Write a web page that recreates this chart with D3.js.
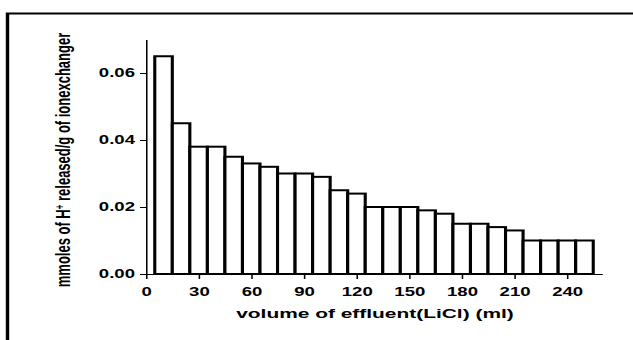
<!DOCTYPE html>
<html>
<head>
<meta charset="utf-8">
<script src="https://cdn.jsdelivr.net/npm/d3@7"></script>
<style>
  html, body { margin: 0; padding: 0; background: #fff; }
  svg { display: block; }
  text { font-family: "Liberation Sans", Arial, sans-serif; font-weight: bold; fill: #000; }
</style>
</head>
<body>
<svg id="chart" width="633" height="340"></svg>
<script>
// ---- data ----
const volumes = [10, 20, 30, 40, 50, 60, 70, 80, 90, 100, 110, 120, 130, 140, 150, 160, 170, 180, 190, 200, 210, 220, 230, 240, 250];
const hReleased = [0.065, 0.045, 0.038, 0.038, 0.035, 0.033, 0.032, 0.030, 0.030, 0.029, 0.025, 0.024, 0.020, 0.020, 0.020, 0.019, 0.018, 0.015, 0.015, 0.014, 0.013, 0.010, 0.010, 0.010, 0.010];
const binWidth = 10;
const xTicks = [0, 30, 60, 90, 120, 150, 180, 210, 240];
const yTicks = [0.00, 0.02, 0.04, 0.06];
const xTitle = "volume of effluent(LiCl) (ml)";
const yTitleMain = "mmoles of H";
const yTitleSup = "+";
const yTitleRest = " released/g of ionexchanger";

// ---- layout (the original picture is stretched horizontally) ----
const K = 1.55;               // horizontal stretch factor
const X = px => px / K;       // convert screen px to unscaled units

const svg = d3.select("#chart");
svg.append("rect").attr("width", 633).attr("height", 340).attr("fill", "#fff");
const g = svg.append("g").attr("transform", `scale(${K},1)`);

// frame (top + left)
g.append("path")
  .attr("d", `M${X(633)},13.5 H${X(7.5)} V340`)
  .attr("fill", "none").attr("stroke", "#000").attr("stroke-width", 2.2);

const x = d3.scaleLinear().domain([0, 260]).range([X(146), X(602)]);
const y = d3.scaleLinear().domain([0, 0.07]).range([274, 39.5]);

// bars
g.append("g").selectAll("rect")
  .data(volumes.map((v, i) => ({ v, h: hReleased[i] })))
  .join("rect")
  .attr("x", d => x(d.v - binWidth / 2))
  .attr("width", d => x(d.v + binWidth / 2) - x(d.v - binWidth / 2))
  .attr("y", d => y(d.h))
  .attr("height", d => y(0) - y(d.h))
  .attr("fill", "#fff")
  .attr("stroke", "#000")
  .attr("stroke-width", 2);

// y axis
const yAxis = g.append("g")
  .attr("transform", `translate(${X(146)},0)`)
  .call(d3.axisLeft(y).tickValues(yTicks).tickFormat(d3.format(".2f"))
    .tickSize(X(6)).tickSizeOuter(0).tickPadding(X(5)));
yAxis.selectAll("text").style("font-size", "12px");

// x axis
const xAxis = g.append("g")
  .attr("transform", `translate(0,274)`)
  .call(d3.axisBottom(x).tickValues(xTicks).tickFormat(d3.format("d"))
    .tickSize(5).tickSizeOuter(0).tickPadding(8));
xAxis.selectAll("text").style("font-size", "12px");
[yAxis, xAxis].forEach(a => {
  a.selectAll("path, line").attr("stroke", "#000").attr("stroke-width", 1);
  a.attr("font-family", null).attr("font-size", null);
});

// axis titles
g.append("text")
  .attr("x", X(375)).attr("y", 318)
  .attr("text-anchor", "middle")
  .style("font-size", "13.5px")
  .text(xTitle);

const yt = g.append("text")
  .attr("transform", `translate(${X(70)},160) rotate(-90)`)
  .attr("text-anchor", "middle")
  .style("font-size", "13px");
yt.append("tspan").text(yTitleMain);
yt.append("tspan").attr("baseline-shift", "super").style("font-size", "8px").text(yTitleSup);
yt.append("tspan").text(yTitleRest);
</script>
</body>
</html>
